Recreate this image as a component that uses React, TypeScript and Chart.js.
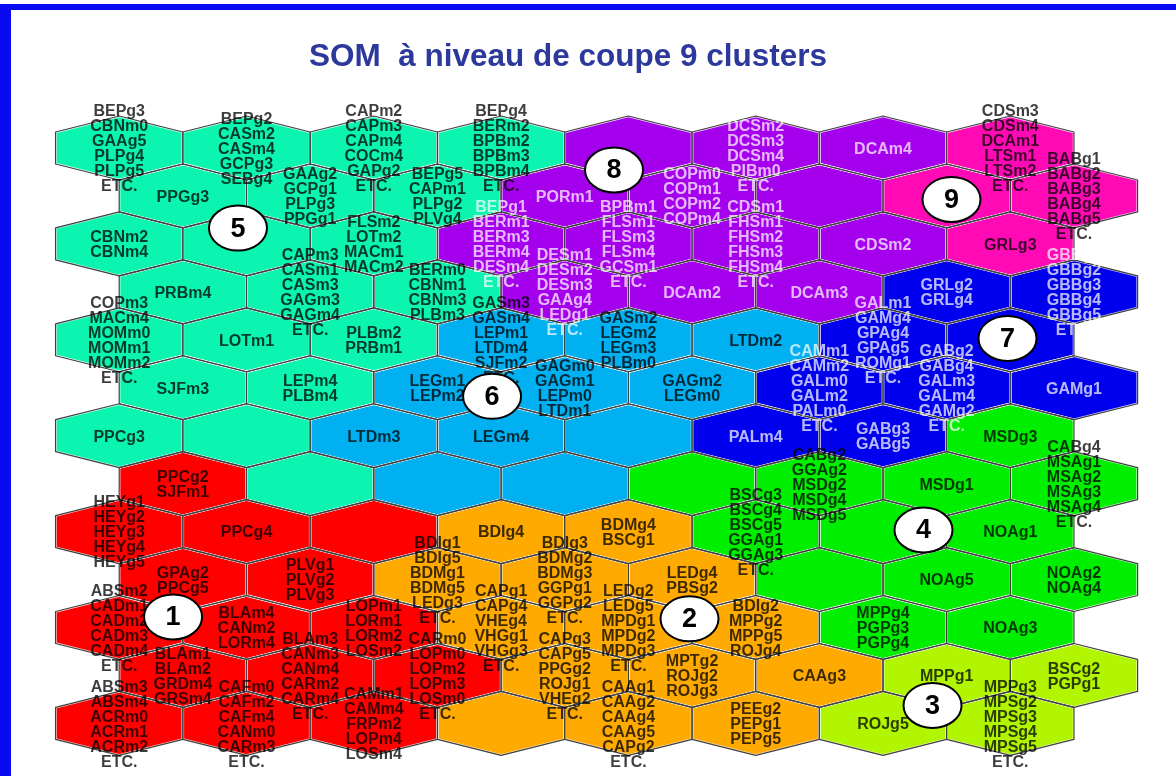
import { useEffect, useRef } from "react";
import { Chart, registerables } from "chart.js";

Chart.register(...registerables);

const chartTitle = "SOM  à niveau de coupe 9 clusters";

// cluster ids and their colours
const clusterIds = [1, 2, 3, 4, 5, 6, 7, 8, 9];
const clusterColors = [
  "#FF0000", "#FFAA00", "#B2F500", "#00EE00", "#0CF5B0",
  "#00B0F0", "#0000EE", "#A500EE", "#FF0AB4",
];
const lightTextClusters = [7, 8];

// SOM grid: 13 rows x 8 columns (odd rows shifted by half a cell)
const gridClusters = [
  [5, 5, 5, 5, 8, 8, 8, 9],
  [5, 5, 5, 8, 8, 8, 9, 9],
  [5, 5, 5, 8, 8, 8, 8, 9],
  [5, 5, 5, 8, 8, 8, 7, 7],
  [5, 5, 5, 6, 6, 6, 7, 7],
  [5, 5, 6, 6, 6, 7, 7, 7],
  [5, 5, 6, 6, 6, 7, 7, 4],
  [1, 5, 6, 6, 4, 4, 4, 4],
  [1, 1, 1, 2, 2, 4, 4, 4],
  [1, 1, 2, 2, 2, 4, 4, 4],
  [1, 1, 1, 2, 2, 2, 4, 4],
  [1, 1, 1, 2, 2, 2, 3, 3],
  [1, 1, 1, 2, 2, 2, 3, 3],
];

// labels of each cell, lines separated by "|"
const cellLabels = [
  ["BEPg3|CBNm0|GAAg5|PLPg4|PLPg5|ETC.", "BEPg2|CASm2|CASm4|GCPg3|SEBg4", "CAPm2|CAPm3|CAPm4|COCm4|GAPg2|ETC.", "BEPg4|BERm2|BPBm2|BPBm3|BPBm4|ETC.", "", "|DCSm2|DCSm3|DCSm4|PIBm0|ETC.", "DCAm4", "CDSm3|CDSm4|DCAm1|LTSm1|LTSm2|ETC."],
  ["PPGg3", "GAAg2|GCPg1|PLPg3|PPGg1", "BEPg5|CAPm1|PLPg2|PLVg4", "PORm1", "COPm0|COPm1|COPm2|COPm4", "", "", "BABg1|BABg2|BABg3|BABg4|BABg5|ETC."],
  ["CBNm2|CBNm4", "", "FLSm2|LOTm2|MACm1|MACm2", "BEPg1|BERm1|BERm3|BERm4|DESm4|ETC.", "BPBm1|FLSm1|FLSm3|FLSm4|GCSm1|ETC.", "CDSm1|FHSm1|FHSm2|FHSm3|FHSm4|ETC.", "CDSm2", "GRLg3"],
  ["PRBm4", "CAPm3|CASm1|CASm3|GAGm3|GAGm4|ETC.", "BERm0|CBNm1|CBNm3|PLBm3", "DESm1|DESm2|DESm3|GAAg4|LEDg1|ETC.", "DCAm2", "DCAm3", "GRLg2|GRLg4", "GBBg1|GBBg2|GBBg3|GBBg4|GBBg5|ETC."],
  ["COPm3|MACm4|MOMm0|MOMm1|MOMm2|ETC.", "LOTm1", "PLBm2|PRBm1", "GASm3|GASm4|LEPm1|LTDm4|SJFm2|ETC.", "GASm2|LEGm2|LEGm3|PLBm0", "LTDm2", "GALm1|GAMg4|GPAg4|GPAg5|ROMg1|ETC.", ""],
  ["SJFm3", "LEPm4|PLBm4", "LEGm1|LEPm2", "GAGm0|GAGm1|LEPm0|LTDm1", "GAGm2|LEGm0", "CAMm1|CAMm2|GALm0|GALm2|PALm0|ETC.", "GABg2|GABg4|GALm3|GALm4|GAMg2|ETC.", "GAMg1"],
  ["PPCg3", "", "LTDm3", "LEGm4", "", "PALm4", "GABg3|GABg5", "MSDg3"],
  ["PPCg2|SJFm1", "", "", "", "", "CABg2|GGAg2|MSDg2|MSDg4|MSDg5", "MSDg1", "CABg4|MSAg1|MSAg2|MSAg3|MSAg4|ETC."],
  ["HEYg1|HEYg2|HEYg3|HEYg4|HEYg5", "PPCg4", "", "BDIg4", "BDMg4|BSCg1", "BSCg3|BSCg4|BSCg5|GGAg1|GGAg3|ETC.", "", "NOAg1"],
  ["GPAg2|PPCg5", "PLVg1|PLVg2|PLVg3", "BDIg1|BDIg5|BDMg1|BDMg5|LEDg3|ETC.", "BDIg3|BDMg2|BDMg3|GGPg1|GGPg2|ETC.", "LEDg4|PBSg2", "", "NOAg5", "NOAg2|NOAg4"],
  ["ABSm2|CADm1|CADm2|CADm3|CADm4|ETC.", "BLAm4|CANm2|LORm4", "LOPm1|LORm1|LORm2|LOSm2", "CAPg1|CAPg4|VHEg4|VHGg1|VHGg3|ETC.", "LEDg2|LEDg5|MPDg1|MPDg2|MPDg3|ETC.", "BDIg2|MPPg2|MPPg5|ROJg4", "MPPg4|PGPg3|PGPg4", "NOAg3"],
  ["BLAm1|BLAm2|GRDm4|GRSm4", "BLAm3|CANm3|CANm4|CARm2|CARm4|ETC.", "CARm0|LOPm0|LOPm2|LOPm3|LOSm0|ETC.", "CAPg3|CAPg5|PPGg2|ROJg1|VHEg2|ETC.", "MPTg2|ROJg2|ROJg3", "CAAg3", "MPPg1", "BSCg2|PGPg1"],
  ["ABSm3|ABSm4|ACRm0|ACRm1|ACRm2|ETC.", "CAFm0|CAFm2|CAFm4|CANm0|CARm3|ETC.", "CAMm1|CAMm4|FRPm2|LOPm4|LOSm4", "", "CAAg1|CAAg2|CAAg4|CAAg5|CAPg2|ETC.", "PEEg2|PEPg1|PEPg5", "ROJg5", "MPPg3|MPSg2|MPSg3|MPSg4|MPSg5|ETC."],
];

// cluster number markers, in grid units
const markerNumbers = [1, 2, 3, 4, 5, 6, 7, 8, 9];
const markerX = [0.423, 4.48, 6.389, 6.318, 0.933, 2.929, 6.978, 3.887, 6.538];
const markerY = [9.78, 9.82, 11.627, 7.967, 1.67, 5.18, 3.973, 0.459, 1.074];

const LABEL_FONT = 'bold 16px "Liberation Sans", Arial, sans-serif';
const LINE_H = 15;

function hexPath(ctx: CanvasRenderingContext2D, cx: number, cy: number, a: number, apex: number, side: number) {
  ctx.beginPath();
  ctx.moveTo(cx, cy - apex);
  ctx.lineTo(cx + a, cy - side);
  ctx.lineTo(cx + a, cy + side);
  ctx.lineTo(cx, cy + apex);
  ctx.lineTo(cx - a, cy + side);
  ctx.lineTo(cx - a, cy - side);
  ctx.closePath();
}

const somPlugin = {
  id: "somMap",
  beforeDraw(chart: any) {
    const ctx = chart.ctx;
    ctx.save();
    ctx.fillStyle = "#ffffff";
    ctx.fillRect(0, 0, chart.width, chart.height);
    ctx.restore();
  },
  afterDatasetsDraw(chart: any) {
    const ctx: CanvasRenderingContext2D = chart.ctx;
    const xs = chart.scales.x;
    const ys = chart.scales.y;
    const a = Math.abs(xs.getPixelForValue(0.5) - xs.getPixelForValue(0));
    const rowH = Math.abs(ys.getPixelForValue(1) - ys.getPixelForValue(0));
    const apex = (rowH * 2) / 3;
    const side = rowH / 3;
    const cells: any[] = [];
    chart.data.datasets.forEach((ds: any, di: number) => {
      const meta = chart.getDatasetMeta(di);
      meta.data.forEach((el: any, i: number) => {
        cells.push({ x: el.x, y: el.y, color: ds.backgroundColor, cluster: ds.clusterId, label: ds.data[i].label });
      });
    });
    ctx.save();
    cells.forEach((c) => {
      hexPath(ctx, c.x, c.y, a, apex, side);
      ctx.fillStyle = c.color;
      ctx.fill();
    });
    ctx.lineJoin = "round";
    cells.forEach((c) => {
      hexPath(ctx, c.x, c.y, a, apex, side);
      ctx.strokeStyle = "rgba(255,255,255,0.85)";
      ctx.lineWidth = 2.4;
      ctx.stroke();
    });
    cells.forEach((c) => {
      hexPath(ctx, c.x, c.y, a, apex, side);
      ctx.strokeStyle = "#404040";
      ctx.lineWidth = 1.2;
      ctx.stroke();
    });
    // labels
    ctx.font = LABEL_FONT;
    ctx.textAlign = "center";
    ctx.textBaseline = "middle";
    cells.forEach((c) => {
      if (!c.label) return;
      const lines = c.label.split("|");
      ctx.fillStyle = lightTextClusters.includes(c.cluster) ? "rgba(255,255,255,0.72)" : "rgba(0,0,0,0.76)";
      const n = lines.length;
      lines.forEach((t: string, i: number) => {
        if (!t) return;
        ctx.fillText(t, c.x, c.y + 1.5 + (i - (n - 1) / 2) * LINE_H);
      });
    });
    // cluster markers
    markerNumbers.forEach((num, i) => {
      const px = xs.getPixelForValue(markerX[i]);
      const py = ys.getPixelForValue(markerY[i]);
      ctx.beginPath();
      ctx.ellipse(px, py, 29, 22.5, 0, 0, Math.PI * 2);
      ctx.fillStyle = "#ffffff";
      ctx.fill();
      ctx.lineWidth = 2;
      ctx.strokeStyle = "#000000";
      ctx.stroke();
      ctx.fillStyle = "#000000";
      ctx.font = 'bold 27px "Liberation Sans", Arial, sans-serif';
      ctx.fillText(String(num), px, py + 1);
    });
    ctx.restore();
  },
  afterDraw(chart: any) {
    const ctx: CanvasRenderingContext2D = chart.ctx;
    ctx.save();
    // frame
    ctx.fillStyle = "#0A0AF0";
    ctx.fillRect(0, 4, chart.width, 6);
    ctx.fillRect(0, 4, 11, chart.height - 4);
    // title
    ctx.font = 'bold 31.5px "Liberation Sans", Arial, sans-serif';
    ctx.textAlign = "center";
    ctx.textBaseline = "middle";
    ctx.fillStyle = "#2C389C";
    ctx.fillText(chartTitle, 568, 57);
    ctx.restore();
  },
};

export default function App() {
  const ref = useRef<HTMLCanvasElement>(null);
  useEffect(() => {
    const datasets = clusterIds.map((id, k) => {
      const data: any[] = [];
      gridClusters.forEach((row, r) => {
        row.forEach((cl, c) => {
          if (cl === id) data.push({ x: c + (r % 2) * 0.5, y: r, label: cellLabels[r][c] });
        });
      });
      return {
        label: "Cluster " + id,
        clusterId: id,
        data,
        backgroundColor: clusterColors[k],
        borderColor: clusterColors[k],
        pointRadius: 0,
        pointHoverRadius: 0,
        showLine: false,
      };
    });
    const chart = new Chart(ref.current as HTMLCanvasElement, {
      type: "scatter",
      data: { datasets } as any,
      options: {
        responsive: false,
        animation: false,
        devicePixelRatio: 1,
        events: [],
        layout: { padding: 0 },
        plugins: {
          legend: { display: false },
          title: { display: false },
          tooltip: { enabled: false },
        },
        scales: {
          x: { type: "linear", min: -0.9364, max: 8.3016, display: false },
          y: { type: "linear", min: -3.0865, max: 13.0975, reverse: true, display: false },
        },
      },
      plugins: [somPlugin],
    } as any);
    return () => chart.destroy();
  }, []);
  return (
    <div style={{ position: "fixed", left: 0, top: 0, width: 1176, height: 776, background: "#ffffff" }}>
      <canvas ref={ref} width={1176} height={776} style={{ display: "block", width: 1176, height: 776 }} />
    </div>
  );
}
